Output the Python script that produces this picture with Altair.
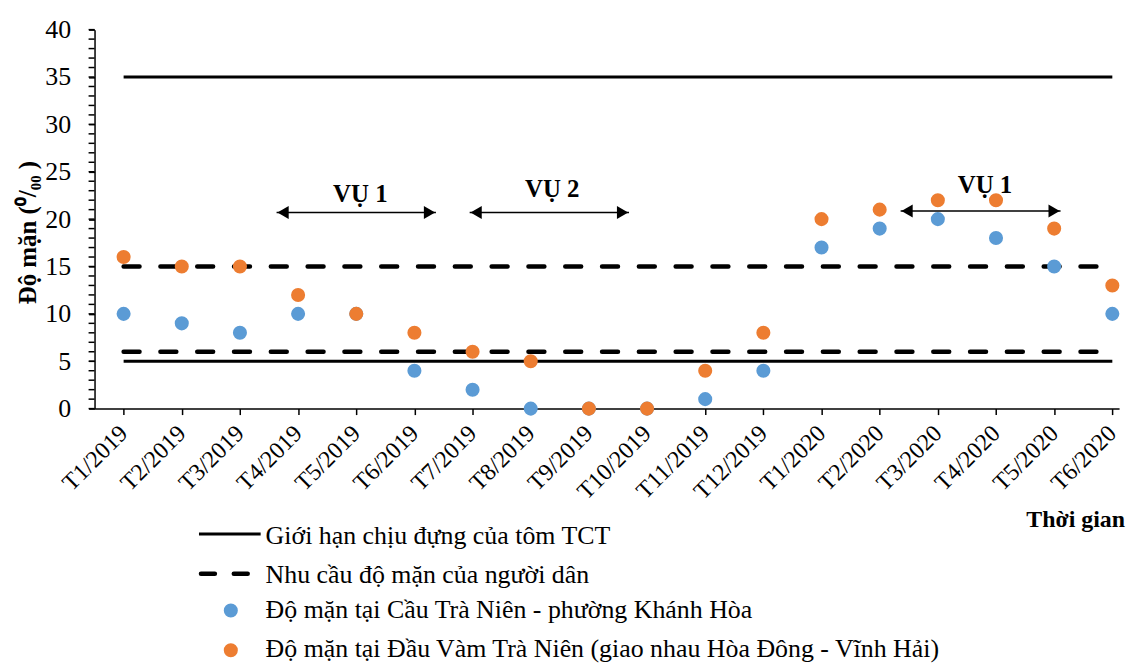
import altair as alt
import pandas as pd

# ---- data ----
months = ["T1/2019", "T2/2019", "T3/2019", "T4/2019", "T5/2019", "T6/2019",
          "T7/2019", "T8/2019", "T9/2019", "T10/2019", "T11/2019", "T12/2019",
          "T1/2020", "T2/2020", "T3/2020", "T4/2020", "T5/2020", "T6/2020"]
cau_tra_nien = [10, 9, 8, 10, 10, 4, 2, 0, 0, 0, 1, 4, 17, 19, 20, 18, 15, 10]
dau_vam_tra_nien = [16, 15, 15, 12, 10, 8, 6, 5, 0, 0, 4, 8, 20, 21, 22, 22, 19, 13]

solid_levels = [35, 5]    # Giới hạn chịu đựng của tôm TCT
dashed_levels = [15, 6]   # Nhu cầu độ mặn của người dân

y_major_ticks = [0, 5, 10, 15, 20, 25, 30, 35, 40]
y_minor_ticks = list(range(0, 41))

series_names = ["Giới hạn chịu đựng của tôm TCT",
                "Nhu cầu độ mặn của người dân",
                "Độ mặn tại Cầu Trà Niên - phường Khánh Hòa",
                "Độ mặn tại Đầu Vàm Trà Niên (giao nhau Hòa Đông - Vĩnh Hải)"]

# season arrows (start month index, end month index, level, label)
arrow_start = [2.63, 5.95, 13.36]
arrow_end = [5.37, 8.69, 16.11]
arrow_level = [20.7, 20.7, 20.85]
arrow_label = ["VỤ 1", "VỤ 2", "VỤ 1"]
label_x = [4.07, 7.37, 14.81]
label_level = [21.85, 22.3, 22.8]

BLUE = "#5B9BD5"
ORANGE = "#ED7D31"
FONT = "Liberation Serif"

idx = list(range(len(months)))
df = pd.DataFrame({"i": idx, "month": months,
                   "cau": cau_tra_nien, "dau": dau_vam_tra_nien})
solid_df = pd.DataFrame({"y": solid_levels, "x": 0, "x2": len(months) - 1})
dashed_df = pd.DataFrame({"y": dashed_levels, "x": 0, "x2": len(months) - 1})
minor_df = pd.DataFrame({"y": y_minor_ticks})
arrows_df = pd.DataFrame({"x1": arrow_start, "x2": arrow_end, "y": arrow_level,
                          "label": arrow_label, "lx": label_x, "ly": label_level})
one = pd.DataFrame({"k": [0]})

label_array = "[" + ",".join("'" + m + "'" for m in months) + "]"

xscale = alt.Scale(domain=[-0.5, 17.116], nice=False, zero=False)
yscale = alt.Scale(domain=[0, 40], nice=False)

x_axis = alt.Axis(values=idx, labelExpr=label_array + "[datum.value]",
                  labelAngle=-45, labelAlign="right", labelBaseline="middle",
                  labelFont=FONT, labelFontSize=24, labelPadding=15, tickSize=6,
                  title=None, grid=False, labelOverlap=False, labelFlush=False,
                  labelColor="black", domainColor="black", tickColor="black",
                  domainWidth=1.5, tickWidth=1.5)
y_axis = alt.Axis(values=y_major_ticks, labelFont=FONT, labelFontSize=26,
                  labelPadding=18, tickSize=6, title=None, grid=False,
                  labelOverlap=False, labelFlush=False,
                  labelColor="black", domainColor="black", tickColor="black",
                  domainWidth=1.5, tickWidth=1.5)

X = alt.X("i:Q", scale=xscale, axis=x_axis)

blue_pts = alt.Chart(df).mark_circle(size=200, opacity=1, color=BLUE).encode(
    x=X, y=alt.Y("cau:Q", scale=yscale, axis=y_axis),
)
orange_pts = alt.Chart(df).mark_circle(size=200, opacity=1, color=ORANGE).encode(
    x=X, y=alt.Y("dau:Q", scale=yscale, axis=y_axis),
)

minor_ticks = alt.Chart(minor_df).mark_rule(color="black", strokeWidth=1.5).encode(
    x=alt.value(-6), x2=alt.value(0), y=alt.Y("y:Q", scale=yscale, axis=y_axis))

solid_rules = alt.Chart(solid_df).mark_rule(color="black", strokeWidth=3).encode(
    x=alt.X("x:Q", scale=xscale, axis=x_axis), x2="x2:Q",
    y=alt.Y("y:Q", scale=yscale, axis=y_axis))
dashed_rules = alt.Chart(dashed_df).mark_rule(
    color="black", strokeWidth=4.5, strokeDash=[16, 21], strokeCap="round").encode(
    x=alt.X("x:Q", scale=xscale, axis=x_axis), x2="x2:Q",
    y=alt.Y("y:Q", scale=yscale, axis=y_axis))

arrow_lines = alt.Chart(arrows_df).mark_rule(color="black", strokeWidth=1.5).encode(
    x=alt.X("x1:Q", scale=xscale, axis=x_axis), x2="x2:Q",
    y=alt.Y("y:Q", scale=yscale, axis=y_axis))
arrow_left = alt.Chart(arrows_df).mark_point(
    shape="triangle-left", filled=True, color="black", size=170, opacity=1,
    xOffset=6.5).encode(x=alt.X("x1:Q", scale=xscale, axis=x_axis),
                        y=alt.Y("y:Q", scale=yscale, axis=y_axis))
arrow_right = alt.Chart(arrows_df).mark_point(
    shape="triangle-right", filled=True, color="black", size=170, opacity=1,
    xOffset=-6.5).encode(x=alt.X("x2:Q", scale=xscale, axis=x_axis),
                         y=alt.Y("y:Q", scale=yscale, axis=y_axis))
arrow_text = alt.Chart(arrows_df).mark_text(
    font=FONT, fontSize=25, fontWeight="bold", align="center",
    baseline="alphabetic", color="black").encode(
    x=alt.X("lx:Q", scale=xscale, axis=x_axis),
    y=alt.Y("ly:Q", scale=yscale, axis=y_axis), text="label:N")

y_title = alt.Chart(one).mark_text(
    text="Độ mặn (⁰/₀₀ )", font=FONT, fontSize=25, fontWeight="bold",
    angle=270, align="center", baseline="middle", color="black").encode(
    x=alt.value(-67), y=alt.value(204))
x_title = alt.Chart(one).mark_text(
    text="Thời gian", font=FONT, fontSize=24, fontWeight="bold",
    align="right", baseline="alphabetic", color="black").encode(
    x=alt.value(1036), y=alt.value(500))

# legend (drawn manually)
leg_solid = alt.Chart(one).mark_rule(color="black", strokeWidth=3).encode(
    x=alt.value(105), x2=alt.value(167), y=alt.value(507))
leg_dash = alt.Chart(one).mark_rule(
    color="black", strokeWidth=4.5, strokeDash=[14, 19], strokeCap="round").encode(
    x=alt.value(107), x2=alt.value(155), y=alt.value(547))
leg_blue = alt.Chart(one).mark_circle(size=200, opacity=1, color=BLUE).encode(
    x=alt.value(137), y=alt.value(584))
leg_orange = alt.Chart(one).mark_circle(size=200, opacity=1, color=ORANGE).encode(
    x=alt.value(137), y=alt.value(624))
leg_texts = []
for name, yb in zip(series_names, [517, 556, 592, 631]):
    leg_texts.append(alt.Chart(one).mark_text(
        text=name, font=FONT, fontSize=26, align="left", baseline="alphabetic",
        color="black").encode(x=alt.value(172), y=alt.value(yb)))

chart = alt.layer(
    minor_ticks, solid_rules, dashed_rules, blue_pts, orange_pts,
    arrow_lines, arrow_left, arrow_right, arrow_text,
    y_title, x_title, leg_solid, leg_dash, leg_blue, leg_orange, *leg_texts,
).properties(
    width=1030, height=381,
    autosize=alt.AutoSizeParams(type="none"),
    padding={"left": 87, "top": 20, "right": 13, "bottom": 255},
).configure_view(stroke=None).configure_axis(
    labelFont=FONT, labelColor="black", domainColor="black", tickColor="black",
    domainWidth=1.5, tickWidth=1.5,
)

chart.save("out.html", embed_options={"renderer": "svg", "actions": False})
